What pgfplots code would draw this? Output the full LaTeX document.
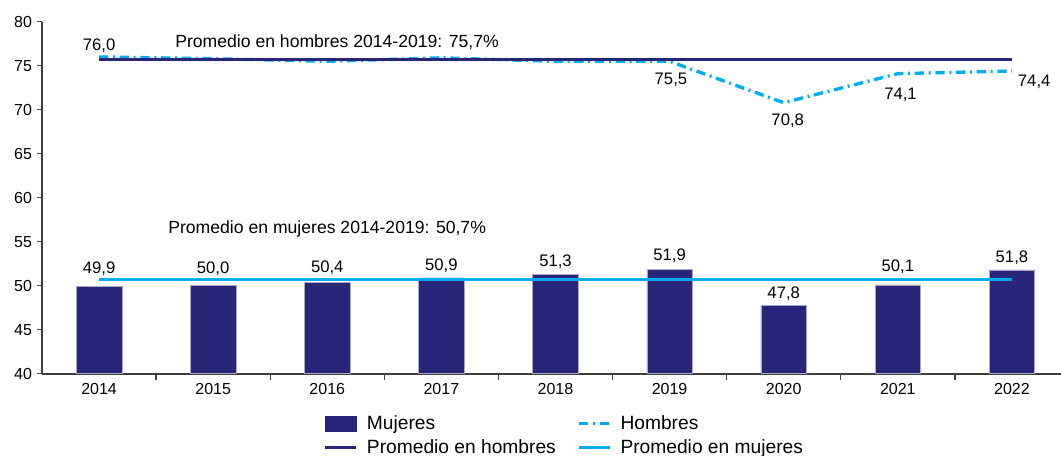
\documentclass[border=0pt]{standalone}
\usepackage{fontspec}
\setmainfont{Liberation Sans}
\usepackage{pgfplots}
\pgfplotsset{compat=1.18}

\definecolor{navy}{RGB}{40,38,120}
\definecolor{celeste}{RGB}{0,174,239}
\definecolor{axisgray}{RGB}{64,64,64}
\newcommand\fs{\fontsize{12pt}{14pt}\selectfont}
\newcommand\fl{\fontsize{12.5pt}{15pt}\selectfont}
\newcommand\fa{\fontsize{13.2pt}{16pt}\selectfont}
\newcommand\fg{\fontsize{14.4pt}{17pt}\selectfont}
\pgfplotsset{
  barleg/.style={legend image code/.code={\fill[navy] (0pt,-5.5pt) rectangle (23pt,5.5pt);}},
  lineleg/.style={legend image code/.code={\draw[##1] (0pt,0pt) -- (23pt,0pt);}},
}

\begin{document}
\begin{tikzpicture}
\begin{axis}[
  scale only axis,
  width=764.25pt, height=264pt,
  xmin=-0.5, xmax=8.43,
  ymin=40, ymax=80,
  ytick={40,45,...,80},
  xtick={0,...,8},
  xticklabels={2014,2015,2016,2017,2018,2019,2020,2021,2022},
  minor xtick={0.5,1.5,...,7.5},
  major x tick style={draw=none},
  minor x tick style={axisgray, line width=1pt},
  minor tick length=5pt,
  major tick length=4pt,
  tick align=outside,
  ytick style={axisgray, line width=1pt},
  axis x line*=bottom,
  axis y line*=left,
  axis line style={axisgray, line width=1.2pt, -},
  tick label style={font=\fs, black},
  /pgf/number format/assume math mode=true,
  clip=false,
  legend columns=2,
  legend cell align=left,
  legend style={at={(0.2765,-0.111)}, anchor=north west, draw=none, fill=none,
    font=\fg, inner sep=0pt, row sep=2pt,
    /tikz/every odd column/.append style={column sep=5pt},
    /tikz/every even column/.append style={column sep=14pt}},
]
% Mujeres
\addplot[ybar, bar width=0.4, fill=navy, draw=navy!40, line width=0.4pt, barleg,
  nodes near coords={\pgfmathprintnumber[fixed, fixed zerofill, precision=1, use comma]{\pgfplotspointmeta}},
  visualization depends on={\thisrow{dy}\as\dy},
  every node near coord/.append style={font=\fl, black, yshift=\dy pt},
] table[x=x, y=y] {
x y dy
0 49.9 4.8
1 50.0 4.3
2 50.4 1.8
3 50.9 0.1
4 51.3 1.0
5 51.9 1.0
6 47.8 -0.2
7 50.1 4.6
8 51.8 0.6
};
\addlegendentry{Mujeres}
% Hombres
\addplot[celeste, line width=2.5pt, mark=none, dash pattern=on 7pt off 3.5pt on 1.5pt off 3.5pt, lineleg]
table[x=x, y=y] {
x y
0 76.0
1 75.8
2 75.5
3 75.9
4 75.5
5 75.5
6 70.8
7 74.1
8 74.4
};
\addlegendentry{Hombres}
% Promedio en hombres
\addplot[navy, line width=2.2pt, mark=none, lineleg] coordinates {(0,75.7) (8,75.7)};
\addlegendentry{Promedio en hombres}
% Promedio en mujeres
\addplot[celeste, line width=2.3pt, mark=none, lineleg] coordinates {(0,50.7) (8,50.7)};
\addlegendentry{Promedio en mujeres}
% Etiquetas de hombres
\addplot[draw=none, mark=none, forget plot,
  nodes near coords, point meta=explicit symbolic,
  visualization depends on={value \thisrow{anc}\as\anc},
  visualization depends on={\thisrow{dx}\as\dx},
  visualization depends on={\thisrow{dy}\as\dy},
  every node near coord/.append style={font=\fl, black, anchor=\anc, xshift=\dx pt, yshift=\dy pt},
] table[x=x, y=y, meta=lab] {
x y lab anc dx dy
0 76.0 76,0 south 0 0
5 75.5 75,5 north 1 -5
6 70.8 70,8 north 3 -5
7 74.1 74,1 north 2 -7
8 74.4 74,4 west 1 -8
};
\node[font=\fa, anchor=west, inner sep=0pt] at (axis cs:0.666,77.7) {Promedio en hombres 2014-2019: 75,7\%};
\node[font=\fa, anchor=west, inner sep=0pt] at (axis cs:0.605,56.4) {Promedio en mujeres 2014-2019: 50,7\%};
\end{axis}
\pgfresetboundingbox
\path[use as bounding box] ([shift={(-31.5pt,-61.7pt)}]current axis.south west) rectangle ([shift={(764.25pt,280.3pt)}]current axis.south west);
\end{tikzpicture}
\end{document}
